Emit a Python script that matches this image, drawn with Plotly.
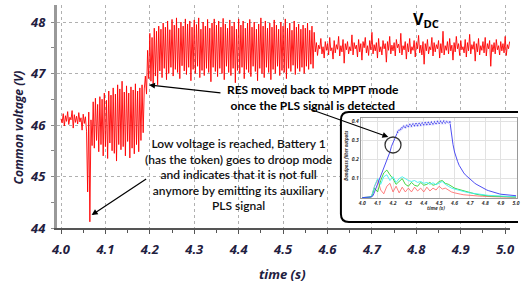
import numpy as np
import plotly.graph_objects as go

# ---------------- main signal: common voltage (V), sampled every 2.5 ms from 4.0 s
seg_start = [46.12, 46.04, 46.22, 45.98, 46.18, 46.07, 46.26, 46.01, 46.15, 46.10,
             46.28, 45.94, 46.20, 46.05, 46.17, 46.02, 46.24, 46.06, 46.14, 45.90,
             46.21, 46.03, 46.16, 45.88]
seg_dip = [44.70, 46.25, 44.12, 46.10]
seg_droop = [45.60, 46.45, 45.55, 46.52, 45.70, 46.40, 45.48, 46.55, 45.62, 46.50,
             45.40, 46.62, 45.58, 46.48, 45.35, 46.66, 45.65, 46.58, 45.50, 46.72,
             45.45, 46.60, 45.30, 46.78, 45.62, 46.70, 45.52, 46.85, 45.58, 46.64,
             45.40, 46.76, 45.68, 46.62, 45.36, 46.74, 45.55, 46.68, 45.44, 46.80,
             45.62, 46.66, 45.48, 46.72, 45.70, 46.78, 45.85, 46.70]
seg_rise = [46.95, 46.60, 47.45, 46.90]
seg_mppt = [47.78, 46.85, 47.70, 46.80, 47.88, 46.95, 47.82, 46.78, 47.92, 47.05,
            47.86, 46.92, 47.98, 47.10, 47.90, 46.88, 48.02, 47.00, 47.85, 47.12,
            48.05, 46.95, 47.94, 47.08, 48.08, 47.02, 47.88, 46.90, 48.00, 47.15,
            47.92, 47.05, 48.06, 46.98, 47.96, 47.12, 48.02, 46.86, 47.90, 47.08,
            48.04, 47.00, 47.95, 47.14, 48.08, 46.92, 47.86, 47.06, 48.00, 46.96,
            47.92, 47.10, 48.05, 47.02, 47.88, 46.84, 47.98, 47.12, 48.06, 47.04,
            47.94, 46.94, 48.02, 47.10, 47.90, 47.00, 48.07, 46.88, 47.96, 47.14,
            47.88, 47.02, 48.04, 46.96, 47.92, 47.10, 48.00, 46.82, 47.86, 47.06,
            48.06, 47.00, 47.94, 47.12, 48.02, 46.90, 47.88, 47.08, 47.98, 47.02,
            48.05, 46.94, 47.90, 47.14, 48.00, 47.04, 47.86, 46.86, 47.96, 47.10,
            48.08, 47.00, 47.92, 46.92, 48.02, 47.12, 47.88, 47.02, 47.98, 46.88,
            47.90, 47.08, 48.04, 47.00, 47.94, 47.14, 47.86, 46.96, 48.00, 47.06,
            47.92, 47.02, 48.06, 46.90, 47.88, 47.10, 47.98, 47.04, 47.84, 47.16,
            48.02, 46.98, 47.90, 47.10, 47.96, 47.04, 47.86, 47.12, 47.94, 47.00,
            47.88, 47.14, 47.98, 47.08, 47.84, 47.18, 47.92, 47.10, 47.80]
seg_steady = [47.42, 47.60, 47.35, 47.55, 47.48, 47.68, 47.38, 47.52, 47.30, 47.62,
              47.45, 47.58, 47.36, 47.70, 47.44, 47.50, 47.28, 47.64, 47.40, 47.56,
              47.47, 47.72, 47.34, 47.54, 47.42, 47.66, 47.20, 47.58, 47.46, 47.62,
              47.38, 47.52, 47.44, 47.75, 47.36, 47.60, 47.48, 47.55, 47.32, 47.66,
              47.42, 47.58, 47.26, 47.62, 47.50, 47.70, 47.40, 47.54, 47.35, 47.64,
              47.46, 47.80, 47.38, 47.56, 47.44, 47.60, 47.30, 47.68, 47.42, 47.52,
              47.36, 47.64, 47.48, 47.58, 47.22, 47.62, 47.45, 47.72, 47.38, 47.55,
              47.44, 47.60, 47.34, 47.66, 47.50, 47.57, 47.40, 47.78, 47.36, 47.54,
              47.46, 47.62, 47.28, 47.58, 47.42, 47.68, 47.38, 47.52, 47.45, 47.64,
              47.32, 47.60, 47.48, 47.74, 47.40, 47.55, 47.36, 47.62, 47.18, 47.58,
              47.44, 47.66, 47.38, 47.52, 47.46, 47.70, 47.34, 47.60, 47.42, 47.56,
              47.48, 47.64, 47.30, 47.58, 47.40, 47.82, 47.36, 47.54, 47.45, 47.62,
              47.38, 47.68, 47.44, 47.55, 47.26, 47.60, 47.42, 47.72, 47.48, 47.58,
              47.35, 47.64, 47.46, 47.52, 47.40, 47.66, 47.32, 47.60, 47.44, 47.76,
              47.38, 47.56, 47.47, 47.62, 47.24, 47.58, 47.42, 47.68, 47.36, 47.54,
              47.45, 47.62, 47.40, 47.70, 47.34, 47.58, 47.48, 47.64, 47.14, 47.56,
              47.42, 47.60, 47.38, 47.66, 47.46, 47.54, 47.36, 47.62, 47.44, 47.58,
              47.40, 47.72, 47.35, 47.56, 47.48, 47.62]
v_dc = seg_start + seg_dip + seg_droop + seg_rise + seg_mppt + seg_steady
t_dc = np.round(4.0 + 0.0025 * np.arange(len(v_dc)), 4)

# ---------------- inset: bandpass filter outputs
t_blue = np.round(4.0 + 0.01 * np.arange(101), 2)
blue = [0, 0, 0, 0, 0.002, 0.003, 0.005, 0.01, 0.03, 0.05,
        0.07, 0.09, 0.11, 0.13, 0.15, 0.17, 0.19, 0.21, 0.24, 0.27,
        0.29, 0.31, 0.33, 0.345, 0.355, 0.36, 0.368, 0.375, 0.37, 0.38,
        0.375, 0.385, 0.377, 0.387, 0.379, 0.389, 0.38, 0.39, 0.382, 0.392,
        0.384, 0.394, 0.385, 0.395, 0.386, 0.397, 0.388, 0.398, 0.39, 0.4,
        0.392, 0.401, 0.393, 0.402, 0.394, 0.4, 0.396, 0.398, 0.33, 0.28,
        0.24, 0.21, 0.19, 0.17, 0.155, 0.14, 0.13, 0.12, 0.112, 0.105,
        0.097, 0.09, 0.083, 0.077, 0.071, 0.066, 0.061, 0.056, 0.052, 0.048,
        0.044, 0.04, 0.037, 0.034, 0.031, 0.028, 0.026, 0.024, 0.022, 0.02,
        0.018, 0.017, 0.016, 0.015, 0.014, 0.013, 0.012, 0.011, 0.011, 0.01, 0.01]
t_band = np.round(4.0 + 0.02 * np.arange(51), 2)
cyan = [0, 0, 0.002, 0.005, 0.06, 0.10, 0.07, 0.11, 0.12, 0.09,
        0.11, 0.08, 0.10, 0.11, 0.10, 0.09, 0.085, 0.09, 0.08, 0.085,
        0.075, 0.08, 0.07, 0.078, 0.068, 0.075, 0.085, 0.07, 0.06, 0.05,
        0.045, 0.04, 0.035, 0.03, 0.028, 0.025, 0.022, 0.02, 0.018, 0.016,
        0.014, 0.012, 0.011, 0.01, 0.009, 0.008, 0.007, 0.006, 0.005, 0.005, 0.004]
green = [0, 0, 0.002, 0.004, 0.05, 0.03, 0.09, 0.13, 0.145, 0.12,
         0.10, 0.07, 0.085, 0.10, 0.07, 0.06, 0.08, 0.065, 0.06, 0.08,
         0.065, 0.07, 0.08, 0.065, 0.07, 0.085, 0.09, 0.075, 0.07, 0.06,
         0.05, 0.045, 0.04, 0.035, 0.03, 0.025, 0.02, 0.018, 0.015, 0.012,
         0.01, 0.009, 0.008, 0.007, 0.006, 0.005, 0.005, 0.004, 0.004, 0.003, 0.003]
red = [0, 0, 0.002, 0.004, 0.06, 0.095, 0.04, 0.02, 0.06, 0.075,
       0.03, 0.06, 0.025, 0.055, 0.03, 0.05, 0.03, 0.055, 0.035, 0.05,
       0.03, 0.055, 0.035, 0.05, 0.04, 0.06, 0.045, 0.05, 0.04, 0.03,
       0.025, 0.02, 0.018, 0.015, 0.013, 0.012, 0.01, 0.009, 0.008, 0.007,
       0.006, 0.005, 0.005, 0.004, 0.004, 0.003, 0.003, 0.003, 0.002, 0.002, 0.002]

x_ticks = [4.0, 4.1, 4.2, 4.3, 4.4, 4.5, 4.6, 4.7, 4.8, 4.9, 5.0]
x_ticktext = ["4.0", "4.1", "4.2", "4.3", "4.4", "4.5", "4.6", "4.7", "4.8", "4.9", "5.0"]
y_ticks = [44, 45, 46, 47, 48]
inset_yticks = [0.1, 0.2, 0.3, 0.4]
inset_yticktext = ["0.1", "0.2", "0.3", "0.4"]

fig = go.Figure()
fig.add_trace(go.Scatter(x=t_dc, y=v_dc, mode="lines", line=dict(color="#ff0000", width=0.9),
                         xaxis="x", yaxis="y", showlegend=False, hoverinfo="skip"))

marker_sizes = [3 if 4.225 <= t <= 4.575 else 0 for t in t_blue]
fig.add_trace(go.Scatter(x=t_band, y=red, mode="lines", line=dict(color="#ff6060", width=0.8),
                         xaxis="x2", yaxis="y2", showlegend=False))
fig.add_trace(go.Scatter(x=t_band, y=green, mode="lines", line=dict(color="#30d030", width=0.9),
                         xaxis="x2", yaxis="y2", showlegend=False))
fig.add_trace(go.Scatter(x=t_band, y=cyan, mode="lines", line=dict(color="#40f0f0", width=0.9),
                         xaxis="x2", yaxis="y2", showlegend=False))
fig.add_trace(go.Scatter(x=t_blue, y=blue, mode="lines+markers", line=dict(color="#3a3af0", width=0.9),
                         marker=dict(size=marker_sizes, color="#3a3af0"),
                         xaxis="x2", yaxis="y2", showlegend=False))

tick_font = dict(family="Open Sans", size=13, color="#1f2040", weight="bold", style="italic")
grid = dict(showgrid=True, gridcolor="#b0b0b0", gridwidth=1, griddash="dot")

fig.update_layout(
    width=523, height=284,
    margin=dict(l=57, r=0, t=5, b=56),
    paper_bgcolor="white", plot_bgcolor="white",
    xaxis=dict(domain=[0, 0.9828], range=[3.991, 5.011], tickvals=x_ticks, ticktext=x_ticktext,
               tickfont=tick_font, ticks="outside", ticklen=4, tickcolor="#555",
               showline=True, linecolor="#555", linewidth=1.5, ticklabelstandoff=5,
               minor=dict(dtick=0.05, ticks="outside", ticklen=3, tickcolor="#555", showgrid=False),
               zeroline=False, **grid),
    yaxis=dict(range=[44, 48.33], tickvals=y_ticks, tickfont=tick_font, ticks="outside",
               ticklen=3, tickcolor="#888", showline=True, linecolor="#999", linewidth=3,
               minor=dict(dtick=0.5, ticks="outside", ticklen=3, tickcolor="#888", showgrid=False),
               ticklabelstandoff=3, zeroline=False, **grid),
    xaxis2=dict(domain=[0.6588, 0.9968], anchor="y2", range=[3.99, 5.003],
                tickvals=x_ticks, ticktext=x_ticktext,
                tickfont=dict(family="Open Sans", size=5, color="#333", style="italic", weight="bold"),
                showgrid=True, gridcolor="#e2e2e2", zeroline=False, showline=True,
                linecolor="#999", linewidth=1, mirror=True, ticks="", ticklabelstandoff=0),
    yaxis2=dict(domain=[0.1345, 0.4933], anchor="x2", range=[-0.002, 0.419],
                tickvals=inset_yticks, ticktext=inset_yticktext,
                tickfont=dict(family="Open Sans", size=5, color="#333", style="italic", weight="bold"),
                showgrid=True, gridcolor="#e2e2e2", zeroline=False, showline=True,
                linecolor="#999", linewidth=1, mirror=True, ticks="", ticklabelstandoff=0),
)

# inset frame (rounded box) drawn over main grid, beneath traces
xl, xr, yb, yt = 4.6302, 5.06, 44.1165, 46.252
dx, dy = 0.0178, 0.155
box_path = (f"M {xr},{yb} L {xl+dx},{yb} Q {xl},{yb} {xl},{yb+dy} "
            f"L {xl},{yt-dy} Q {xl},{yt} {xl+dx},{yt} L {xr},{yt} Z")
fig.add_shape(type="path", path=box_path, xref="x", yref="y", layer="between",
              fillcolor="white", line=dict(color="black", width=2))
fig.add_shape(type="line", xref="paper", yref="paper", x0=0.982, x1=1.0, y0=0.5202, y1=0.5202,
              line=dict(color="black", width=2))
fig.add_shape(type="line", xref="paper", yref="paper", x0=0.982, x1=1.0, y0=0.0269, y1=0.0269,
              line=dict(color="black", width=2))
# highlight circle in inset
fig.add_shape(type="circle", xref="x2", yref="y2", xsizemode="pixel", ysizemode="pixel",
              xanchor=4.2, yanchor=0.277, x0=-8, x1=8, y0=-8, y1=8,
              line=dict(color="#333", width=1.3))

ann_font = dict(family="Lato", size=12, color="black")
fig.add_annotation(xref="paper", yref="paper", x=0.5558, y=0.5874, xanchor="center", yanchor="middle",
                   text="<b>RES moved back to MPPT mode<br>once the PLS signal is detected</b>",
                   showarrow=False, font=ann_font)
fig.add_annotation(xref="paper", yref="paper", x=0.3927, y=0.2420, xanchor="center", yanchor="middle",
                   text=("Low voltage is reached, Battery 1<br>(has the token) goes to droop mode<br>"
                         "and indicates that it is not full<br>anymore by emitting its auxiliary<br>PLS signal"),
                   showarrow=False, font=dict(family="Lato", size=12, color="#111", weight=600))
fig.add_annotation(xref="paper", yref="paper", x=0.80, y=0.937, xanchor="center", yanchor="middle",
                   text="<b>V<sub>DC</sub></b>", showarrow=False,
                   font=dict(family="Open Sans", size=16, color="black"))
fig.add_annotation(xref="paper", yref="paper", x=-0.0815, y=0.453, xanchor="center", yanchor="middle",
                   text="Common voltage (V)", textangle=-90, showarrow=False,
                   font=dict(family="Open Sans", size=12, color="#1f2040", weight="bold", style="italic"))
fig.add_annotation(xref="paper", yref="paper", x=0.489, y=-0.206, xanchor="center", yanchor="middle",
                   text="time (s)", showarrow=False,
                   font=dict(family="Open Sans", size=13, color="#1f2040", weight="bold", style="italic"))
fig.add_annotation(xref="paper", yref="paper", x=0.822, y=0.0897, xanchor="center", yanchor="middle",
                   text="time (s)", showarrow=False,
                   font=dict(family="Open Sans", size=5, color="#333", weight="bold", style="italic"))
fig.add_annotation(xref="paper", yref="paper", x=0.626, y=0.327, xanchor="center", yanchor="middle",
                   text="Bandpass filter outputs", textangle=-90, showarrow=False,
                   font=dict(family="Open Sans", size=4.5, color="#333", weight="bold", style="italic"))

arrow = dict(showarrow=True, arrowhead=2, arrowsize=1, arrowwidth=1.2, arrowcolor="black", text="",
             axref="pixel", ayref="pixel")
fig.add_annotation(xref="x", yref="y", x=4.1981, y=46.777, ax=73, ay=8, **arrow)
fig.add_annotation(xref="x", yref="y", x=4.069, y=44.252, ax=56, ay=-37, **arrow)
fig.add_annotation(xref="x2", yref="y2", x=4.170, y=0.319, ax=-79, ay=-28, **arrow)

fig.write_html("out.html", config={"displayModeBar": False},
               post_script="document.body.style.margin='0';document.body.style.padding='0';")
